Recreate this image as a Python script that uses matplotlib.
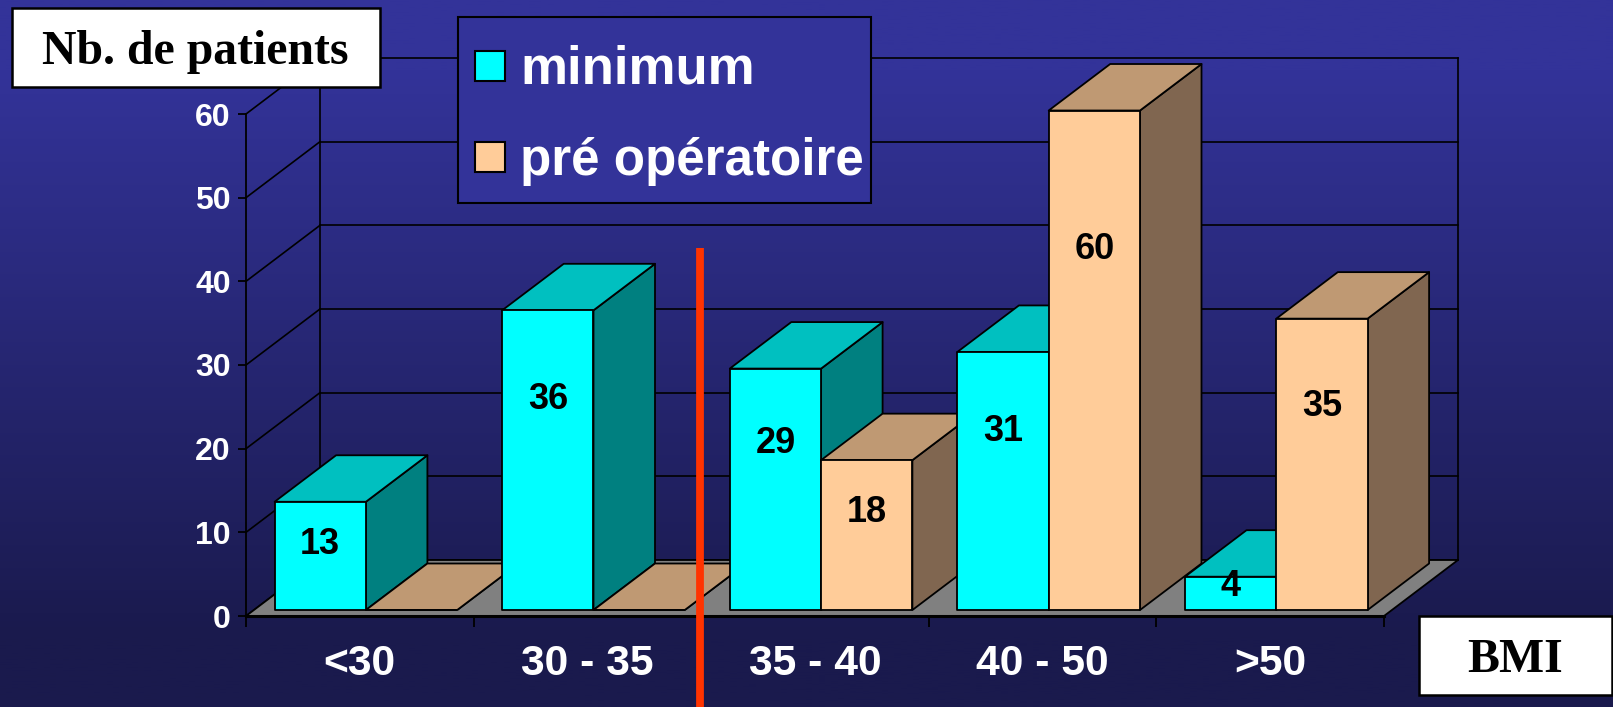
import numpy as np
import matplotlib
matplotlib.use('Agg')
import matplotlib.pyplot as plt
from matplotlib.patches import Polygon, Rectangle

W, H = 1613, 707

categories = ['<30', '30 - 35', '35 - 40', '40 - 50', '>50']
minimum = [13, 36, 29, 31, 4]
pre_op = [0, 0, 18, 60, 35]
y_ticks = [0, 10, 20, 30, 40, 50, 60]

# face, top, side colours of each series
cyan = ('#00ffff', '#00c0c0', '#008080')
tan = ('#ffcc99', '#bf9973', '#806650')

SANS = 'Liberation Sans'
SERIF = 'Liberation Serif'

fig = plt.figure(figsize=(W / 100, H / 100), dpi=100)

# Background gradient
bg = fig.add_axes([0, 0, 1, 1], zorder=0)
t = np.clip((np.linspace(0, 1, 256) - 0.1) / 0.8, 0, 1)[:, None, None]
top_col = np.array([51, 51, 153]) / 255
bot_col = np.array([26, 26, 77]) / 255
bg.imshow(top_col * (1 - t) + bot_col * t, aspect='auto')
bg.axis('off')

# Front plane of the chart: category units across, values up
left, right, y0, y60 = 246, 1384, 616, 114
ax = fig.add_axes([left / W, 1 - y0 / H, (right - left) / W, (y0 - y60) / H], zorder=1)
ax.patch.set_alpha(0)
ax.set_xlim(0, len(categories))
ax.set_ylim(0, 60)

px_x = (right - left) / len(categories)
px_y = (y0 - y60) / 60
wall_dx, wall_dy = 74 / px_x, 56 / px_y
bar_dx, bar_dy = 61.5 / px_x, 46.5 / px_y
base = 6 / px_y
bar_w = 91.3 / px_x
bar_start = 28.6 / px_x
bar_scale = 0.995  # bars stand a little short of the tick scale in the original
edge = dict(edgecolor='black', linewidth=1.3, joinstyle='round', clip_on=False)

# Floor and walls go behind the bars
wall_top = 60 + wall_dy
ax.add_patch(Polygon([(0, 0), (5, 0), (5 + wall_dx, wall_dy), (wall_dx, wall_dy)],
                     facecolor='#808080', zorder=0.6, **edge))
line = dict(color='black', lw=1.2, clip_on=False, zorder=0.5)
for v in y_ticks:
    ax.plot([0, wall_dx], [v, v + wall_dy], **line)
    ax.plot([wall_dx, 5 + wall_dx], [v + wall_dy, v + wall_dy], **line)
ax.plot([wall_dx, wall_dx], [wall_dy, wall_top], **line)
ax.plot([5 + wall_dx, 5 + wall_dx], [wall_dy, wall_top], **line)


def draw_bar(x, v, cols):
    top = base + v * bar_scale
    ax.add_patch(Polygon([(x + bar_w, base), (x + bar_w + bar_dx, base + bar_dy),
                          (x + bar_w + bar_dx, top + bar_dy), (x + bar_w, top)],
                         facecolor=cols[2], **edge))
    ax.add_patch(Polygon([(x, top), (x + bar_w, top), (x + bar_w + bar_dx, top + bar_dy),
                          (x + bar_dx, top + bar_dy)], facecolor=cols[1], **edge))
    ax.add_patch(Rectangle((x, base), bar_w, v * bar_scale, facecolor=cols[0], **edge))


def label_height(v):
    # labels sit a bit above the middle of the bar, as in the original
    return v * 0.7 if v < 5 else 0.75 * v - 1.9


for i in range(len(categories)):
    draw_bar(i + bar_start, minimum[i], cyan)
    draw_bar(i + bar_start + bar_w, pre_op[i], tan)

for i in range(len(categories)):
    for j, vals in enumerate([minimum, pre_op]):
        v = vals[i]
        if v > 0:
            ax.text(i + bar_start + bar_w * (j + 0.5), base + label_height(v), str(v),
                    ha='center', va='center', fontsize=26, fontweight='bold',
                    family=SANS, color='black', zorder=5)

# Axes
for s in ['top', 'right']:
    ax.spines[s].set_visible(False)
ax.spines['left'].set_linewidth(1.3)
ax.spines['bottom'].set_linewidth(2.2)
ax.set_yticks(y_ticks)
ax.set_yticklabels(y_ticks, fontsize=23, fontweight='bold', family=SANS, color='white')
ax.set_xticks(range(len(categories) + 1))
ax.set_xticklabels([])
ax.set_xticks(np.arange(len(categories)) + 0.5, minor=True)
ax.set_xticklabels(categories, minor=True, fontsize=30.7, fontweight='bold', family=SANS, color='white')
ax.tick_params(axis='y', length=6, width=1.3, color='black', pad=5, direction='out')
ax.tick_params(axis='x', which='major', length=8, width=1.3, color='black')
ax.tick_params(axis='x', which='minor', length=0, pad=20)

# Overlay in pixels for the boxes, legend and red line
ov = fig.add_axes([0, 0, 1, 1], zorder=2)
ov.set_xlim(0, W)
ov.set_ylim(H, 0)
ov.axis('off')

ov.plot([699.5, 699.5], [248, H], color='#ff3300', lw=5.6, solid_capstyle='butt')

ov.add_patch(Rectangle((11.5, 8), 368, 79, facecolor='white', edgecolor='black', linewidth=1.8))
ov.text(195, 52, 'Nb. de patients', ha='center', va='center', family=SERIF,
        fontweight='bold', fontsize=34.4, color='black')
ov.add_patch(Rectangle((1419, 616), 193, 79, facecolor='white', edgecolor='black', linewidth=1.8))
ov.text(1515, 660, 'BMI', ha='center', va='center', family=SERIF,
        fontweight='bold', fontsize=34.4, color='black')

ov.add_patch(Rectangle((458, 17), 413, 186, facecolor='#333399', edgecolor='black', linewidth=1.5))
ov.add_patch(Rectangle((475, 51), 30, 30, facecolor=cyan[0], edgecolor='black', linewidth=1.5))
ov.add_patch(Rectangle((475, 142), 30, 30, facecolor=tan[0], edgecolor='black', linewidth=1.5))
ov.text(520, 84, 'minimum', ha='left', va='baseline', family=SANS, fontweight='bold',
        fontsize=38, color='white')
ov.text(520, 175, 'pré opératoire', ha='left', va='baseline', family=SANS, fontweight='bold',
        fontsize=36.8, color='white')

fig.savefig('out.png', dpi=100)
